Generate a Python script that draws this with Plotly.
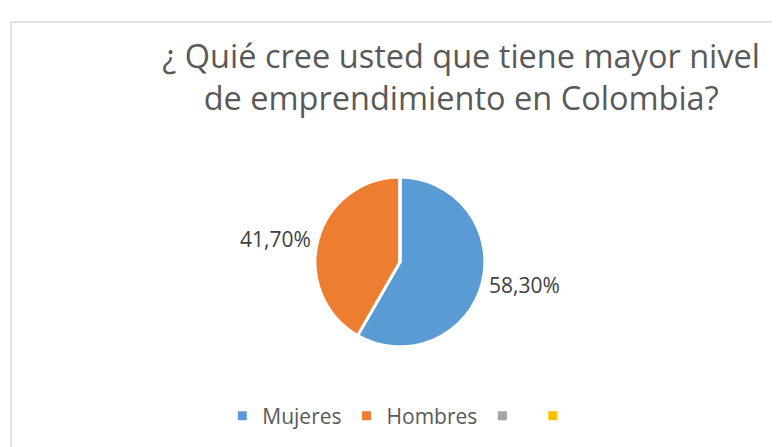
import plotly.graph_objects as go

# datos de la encuesta
labels = ["Mujeres", "Hombres", " ", "  "]
values = [58.3, 41.7, 0, 0]
colors = ["#5B9BD5", "#ED7D31", "#A5A5A5", "#FFC000"]
title_text = "¿ Quié cree usted que tiene mayor nivel<br>de emprendimiento en Colombia?"

fig = go.Figure()
fig.add_trace(go.Pie(
    labels=labels,
    values=values,
    sort=False,
    direction="clockwise",
    rotation=0,
    marker={"colors": colors, "line": {"color": "white", "width": 3}},
    textposition="outside",
    texttemplate=["%{percent:.2%}", "%{percent:.2%}", "", ""],
    textfont={"size": 21, "color": "#404040", "family": "Open Sans"},
    showlegend=True,
    domain={"x": [0.39, 0.615], "y": [0.242, 0.622]},
    hoverinfo="label+percent",
))

fig.update_layout(
    width=780,
    height=447,
    margin={"l": 0, "r": 0, "t": 0, "b": 0},
    paper_bgcolor="white",
    plot_bgcolor="white",
    separators=",.",
    font={"family": "Open Sans", "color": "#595959"},
    title={
        "text": title_text,
        "x": 0.581,
        "xanchor": "center",
        "y": 0.866,
        "yanchor": "top",
        "font": {"size": 32.5, "color": "#595959", "family": "Open Sans"},
    },
    legend={
        "orientation": "h",
        "x": 0.51,
        "xanchor": "center",
        "y": 0.087,
        "yanchor": "middle",
        "font": {"size": 21, "color": "#595959"},
        "itemwidth": 30,
    },
    shapes=[{
        "type": "rect", "xref": "paper", "yref": "paper",
        "x0": 0.004, "x1": 1.02, "y0": -0.02, "y1": 1 - 14 / 447,
        "line": {"color": "#D9D9D9", "width": 1.5},
    }],
)

fig.write_html("out.html")
